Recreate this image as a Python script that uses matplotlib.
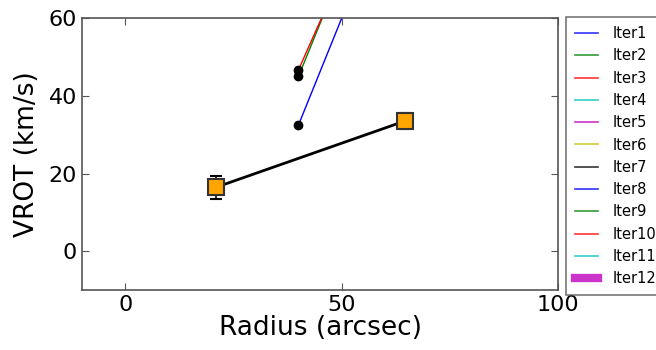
import numpy as np
import matplotlib
matplotlib.use("Agg")
import matplotlib.pyplot as plt

# rotation curve points per iteration (radius, vrot)
radius = [40.0, 64.5]
iter_names = ["Iter%d" % i for i in range(1, 13)]
iter_colors = ["b", "g", "r", "c", "m", "y", "k", "b", "g", "r", "c", "m"]
iter1_vrot = [32.5, 100.0]
iter2_vrot = [45.0, 112.0]
iter3_vrot = [46.7, 108.0]

# final model with errors
final_rad = [21.0, 64.5]
final_vrot = [16.5, 33.5]
final_err = [3.0, 2.0]

fig = plt.figure(figsize=(6.56, 3.5), dpi=100)
ax = fig.add_axes([0.125, 0.171, 0.726, 0.777])

ax.plot(radius, iter1_vrot, color="b", lw=1)
ax.plot(radius, iter2_vrot, color="g", lw=1)
ax.plot(radius, iter3_vrot, color="r", lw=1)
ax.plot([radius[0]] * 3, [iter1_vrot[0], iter2_vrot[0], iter3_vrot[0]],
        "o", color="k", ms=6, zorder=5)

ax.plot(final_rad, final_vrot, color="k", lw=2, zorder=4)
ax.errorbar(final_rad, final_vrot, yerr=final_err, fmt="s", color="k",
            mfc="orange", mec="#333333", mew=1.5, ms=12, capsize=4.5,
            elinewidth=1.2, zorder=6)

# legend entries
handles = []
for i, (name, col) in enumerate(zip(iter_names, iter_colors)):
    lw = 6 if i == len(iter_names) - 1 else 1.2
    h, = ax.plot([], [], color=col, lw=lw, alpha=0.8, label=name)
    handles.append(h)
leg = ax.legend(handles=handles, loc="upper left", bbox_to_anchor=(1.017, 1.003),
                fontsize=10.5, frameon=True, fancybox=False, handlelength=1.6,
                borderaxespad=0, labelspacing=0.5, handletextpad=1.0,
                borderpad=0.6)
leg.get_frame().set_edgecolor("#555555")
leg.get_frame().set_linewidth(1.2)

ax.set_xlim(-10, 100)
ax.set_ylim(-10, 60)
ax.set_xticks([0, 50, 100])
ax.set_yticks([0, 20, 40, 60])
ax.tick_params(direction="in", labelsize=16, top=True, right=True,
               color="#555555", length=5)
for s in ax.spines.values():
    s.set_color("#555555")
    s.set_linewidth(1.2)
ax.set_xlabel("Radius (arcsec)", fontsize=19, labelpad=0)
ax.set_ylabel("VROT (km/s)", fontsize=19, labelpad=6)

fig.savefig("out.png", dpi=100)
